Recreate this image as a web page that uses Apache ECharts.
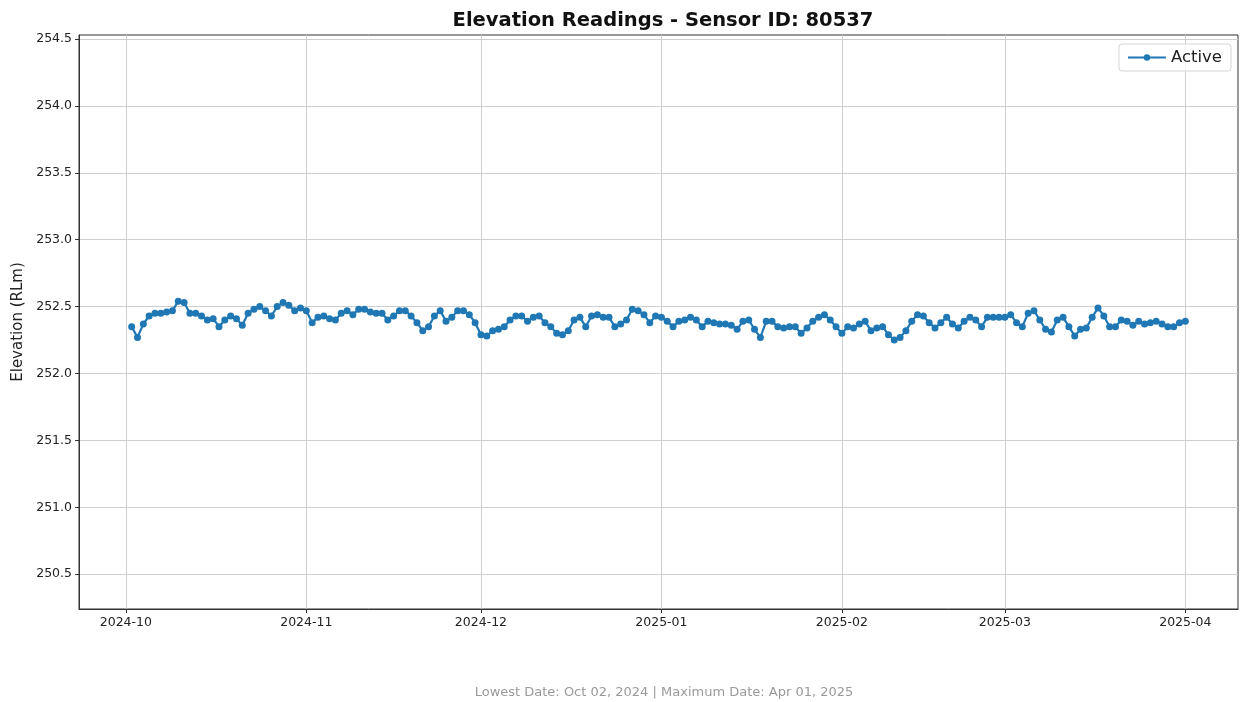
<!DOCTYPE html>
<html>
<head>
<meta charset="utf-8">
<script src="https://cdn.jsdelivr.net/npm/echarts@6/dist/echarts.min.js"></script>
<style>
html,body{margin:0;padding:0;background:#fff;}
#chart{width:1242px;height:702px;}
</style>
</head>
<body>
<div id="chart"></div>
<script>
// ---- data ----
const firstDate = '2024-10-02';
const octValues = [252.35, 252.27, 252.37, 252.43, 252.45, 252.45, 252.46, 252.47, 252.54, 252.53, 252.45, 252.45, 252.43, 252.40, 252.41, 252.35, 252.40, 252.43, 252.41, 252.36, 252.45, 252.48, 252.50, 252.47, 252.43, 252.50, 252.53, 252.51, 252.47, 252.49];
const novValues = [252.47, 252.38, 252.42, 252.43, 252.41, 252.40, 252.45, 252.47, 252.44, 252.48, 252.48, 252.46, 252.45, 252.45, 252.40, 252.43, 252.47, 252.47, 252.43, 252.38, 252.32, 252.35, 252.43, 252.47, 252.39, 252.42, 252.47, 252.47, 252.44, 252.38];
const decValues = [252.29, 252.28, 252.32, 252.33, 252.35, 252.40, 252.43, 252.43, 252.39, 252.42, 252.43, 252.38, 252.35, 252.30, 252.29, 252.32, 252.40, 252.42, 252.35, 252.43, 252.44, 252.42, 252.42, 252.35, 252.37, 252.40, 252.48, 252.47, 252.44, 252.38, 252.43];
const janValues = [252.42, 252.39, 252.35, 252.39, 252.40, 252.42, 252.40, 252.35, 252.39, 252.38, 252.37, 252.37, 252.36, 252.33, 252.39, 252.40, 252.33, 252.27, 252.39, 252.39, 252.35, 252.34, 252.35, 252.35, 252.30, 252.34, 252.39, 252.42, 252.44, 252.40, 252.35];
const febValues = [252.30, 252.35, 252.34, 252.37, 252.39, 252.32, 252.34, 252.35, 252.29, 252.25, 252.27, 252.32, 252.39, 252.44, 252.43, 252.38, 252.34, 252.38, 252.42, 252.37, 252.34, 252.39, 252.42, 252.40, 252.35, 252.42, 252.42, 252.42];
const marValues = [252.42, 252.44, 252.38, 252.35, 252.45, 252.47, 252.40, 252.33, 252.31, 252.40, 252.42, 252.35, 252.28, 252.33, 252.34, 252.42, 252.49, 252.43, 252.35, 252.35, 252.40, 252.39, 252.36, 252.39, 252.37, 252.38, 252.39, 252.37, 252.35, 252.35, 252.38];
const aprValues = [252.39];

const xTickLabels = ['2024-10', '2024-11', '2024-12', '2025-01', '2025-02', '2025-03', '2025-04'];
const yTickValues = [250.5, 251.0, 251.5, 252.0, 252.5, 253.0, 253.5, 254.0, 254.5];
const seriesName = 'Active';
const chartTitle = 'Elevation Readings - Sensor ID: 80537';
const footerText = 'Lowest Date: Oct 02, 2024 | Maximum Date: Apr 01, 2025';

// ---- build ----
const DAY = 86400000;
function utc(s) { const p = s.split('-').map(Number); return Date.UTC(p[0], p[1] - 1, p[2] || 1); }
const allValues = [].concat(octValues, novValues, decValues, janValues, febValues, marValues, aprValues);
const t0 = utc(firstDate);
const seriesData = allValues.map((v, i) => [t0 + i * DAY, v]);
const tickTimes = xTickLabels.map(s => utc(s));
const labelByTime = {};
tickTimes.forEach((t, i) => { labelByTime[t] = xTickLabels[i]; });
const tLast = seriesData[seriesData.length - 1][0];
const span = tLast - t0;
const xMin = t0 - span * 0.05;
const xMax = tLast + span * 0.05;

const FONT = 'DejaVu Sans';
const chart = echarts.init(document.getElementById('chart'));
chart.setOption({
  animation: false,
  backgroundColor: '#ffffff',
  title: [
    { text: chartTitle, left: 658, top: 6, textAlign: 'center',
      textStyle: { fontFamily: FONT, fontSize: 19.5, fontWeight: 'bold', color: '#111' } },
    { text: footerText, left: 659, top: 681, textAlign: 'center',
      textStyle: { fontFamily: FONT, fontSize: 13, fontWeight: 'normal', color: '#9a9a9a' } }
  ],
  legend: {
    right: 11, top: 44,
    padding: [5, 9, 5, 8],
    itemWidth: 38, itemHeight: 8, itemGap: 8,
    backgroundColor: 'rgba(255,255,255,0.8)',
    borderColor: '#d6d6d6', borderWidth: 1, borderRadius: 3,
    textStyle: { fontFamily: FONT, fontSize: 16.5, color: '#222' },
    data: [seriesName]
  },
  grid: { left: 79, right: 4, top: 35, bottom: 93, show: true, borderColor: '#333', borderWidth: 1, backgroundColor: 'transparent' },
  xAxis: {
    type: 'value', min: xMin, max: xMax, scale: true,
    axisLine: { show: true, onZero: false, lineStyle: { color: '#333', width: 1 } },
    axisTick: { show: true, length: 4, lineStyle: { color: '#333' }, customValues: tickTimes },
    axisLabel: { customValues: tickTimes, margin: 7, fontFamily: FONT, fontSize: 12.5, color: '#222',
      formatter: v => labelByTime[v] || '' },
    splitLine: { show: true, lineStyle: { color: '#cfcfcf', width: 1 } }
  },
  yAxis: {
    type: 'value', min: 250.24, max: 254.53, scale: true,
    name: 'Elevation (RLm)', nameLocation: 'middle', nameGap: 53,
    nameTextStyle: { fontFamily: FONT, fontSize: 15, color: '#222' },
    axisLine: { show: true, onZero: false, lineStyle: { color: '#333', width: 1 } },
    axisTick: { show: true, length: 4, lineStyle: { color: '#333' }, customValues: yTickValues },
    axisLabel: { customValues: yTickValues, margin: 7, fontFamily: FONT, fontSize: 12.5, color: '#222',
      formatter: v => Number(v).toFixed(1) },
    splitLine: { show: true, lineStyle: { color: '#cfcfcf', width: 1 } }
  },
  series: [{
    name: seriesName, type: 'line', data: seriesData,
    showSymbol: true, showAllSymbol: true, symbol: 'circle', symbolSize: 7,
    itemStyle: { color: '#1f77b4' },
    lineStyle: { color: '#1f77b4', width: 2.2 }
  }]
});
</script>
</body>
</html>
